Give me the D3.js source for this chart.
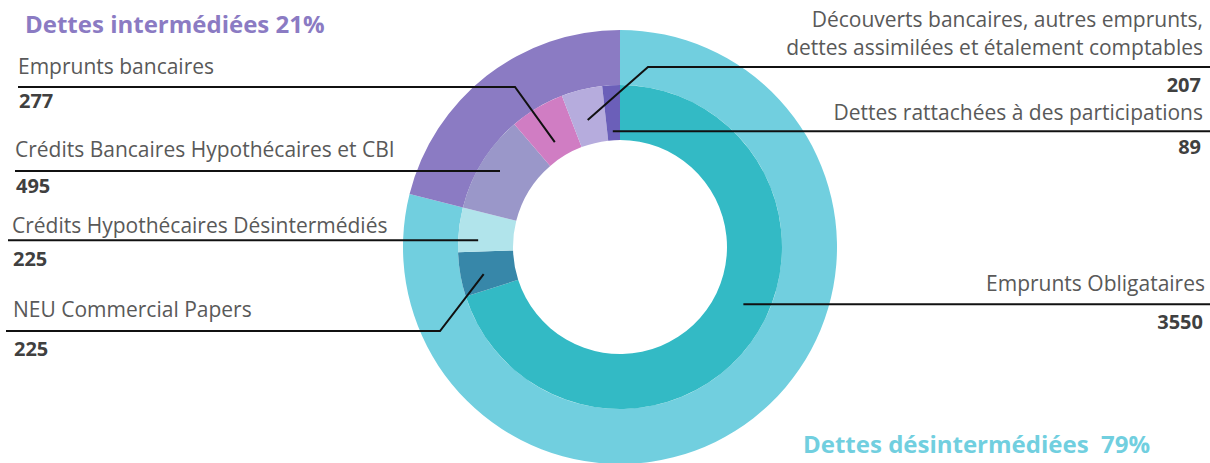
<!DOCTYPE html>
<html>
<head>
<meta charset="utf-8">
<script src="https://cdn.jsdelivr.net/npm/d3@7"></script>
<style>
  body { margin: 0; background: #fff; }
  svg { display: block; font-family: "Open Sans", Lato, sans-serif; }
</style>
</head>
<body>
<div id="chart"></div>
<script>
// Slices of the inner ring, clockwise from 12 o'clock.
const categories = [
  "Emprunts Obligataires",
  "NEU Commercial Papers",
  "Crédits Hypothécaires Désintermédiés",
  "Crédits Bancaires Hypothécaires et CBI",
  "Emprunts bancaires",
  "Découverts bancaires, autres emprunts, dettes assimilées et étalement comptables",
  "Dettes rattachées à des participations"
];
const values = [3550, 225, 225, 495, 277, 207, 89];
const groupOf = ["des", "des", "des", "int", "int", "int", "int"];

// Outer ring groups
const groupKeys = ["des", "int"];
const groupNames = { des: "Dettes désintermédiées", int: "Dettes intermédiées" };

// Colours
const innerColors = ["#33bac5", "#3787a9", "#b1e4eb", "#9a97c9", "#d07dc3", "#b6acdd", "#6b5fb9"];
const outerColors = { des: "#71cfdf", int: "#8b7bc3" };

// Label layout (one per category)
const labelLayout = [
  { side: "right", x: 1205, lines: ["Emprunts Obligataires"], textY: [291], valueY: 329, from: 1210, r: 136, dAngle: -11.2 },
  { side: "left", x: 13, lines: ["NEU Commercial Papers"], textY: [317], valueY: 356, from: 6, lineY: 331, elbowX: 440, r: 139, dAngle: -1.4 },
  { side: "left", x: 12, lines: ["Crédits Hypothécaires Désintermédiés"], textY: [233], valueY: 266, from: 8, r: 142, dAngle: -3.4 },
  { side: "left", x: 15, lines: ["Crédits Bancaires Hypothécaires et CBI"], textY: [157], valueY: 193, from: 15, r: 142, dAngle: 0.6 },
  { side: "left", x: 18, lines: ["Emprunts bancaires"], textY: [74], valueY: 108, from: 18, lineY: 87, elbowX: 515, r: 123.5, dAngle: -1 },
  { side: "right", x: 1203, lines: ["Découverts bancaires, autres emprunts,", "dettes assimilées et étalement comptables"], textY: [27, 55], valueY: 92, from: 1210, lineY: 67, elbowX: 648, r: 131, dAngle: -0.6 },
  { side: "right", x: 1203, lines: ["Dettes rattachées à des participations"], textY: [120], valueY: 154, from: 1210, r: 116, dAngle: -0.4 }
];

const width = 1210;
const height = 463;
const cx = 620, cy = 247;
const rHole = 107, rMid = 162, rOuter = 217;

const svg = d3.select("#chart").append("svg")
  .attr("width", width)
  .attr("height", height);

const g = svg.append("g").attr("transform", `translate(${cx},${cy})`);

const total = d3.sum(values);
const rows = categories.map((c, i) => ({ name: c, value: values[i], group: groupOf[i], i }));
const groupSums = groupKeys.map(k => ({ key: k, value: d3.sum(rows.filter(r => r.group === k), r => r.value) }));

const pie = d3.pie().sort(null).value(d => d.value);

// Outer ring
const outerArc = d3.arc().innerRadius(rMid).outerRadius(rOuter);
g.selectAll("path.outer")
  .data(pie(groupSums))
  .enter()
  .append("path")
  .attr("class", "outer")
  .attr("d", outerArc)
  .attr("fill", d => outerColors[d.data.key]);

// Inner ring
const innerArcs = pie(rows);
const innerArc = d3.arc().innerRadius(rHole).outerRadius(rMid);
g.selectAll("path.inner")
  .data(innerArcs)
  .enter()
  .append("path")
  .attr("class", "inner")
  .attr("d", innerArc)
  .attr("fill", d => innerColors[d.data.i]);

// Leader lines and labels
innerArcs.forEach(a => {
  const L = labelLayout[a.data.i];
  const ang = (a.startAngle + a.endAngle) / 2 + L.dAngle * Math.PI / 180;
  const ax = cx + L.r * Math.sin(ang);
  const ay = cy - L.r * Math.cos(ang);
  const pts = [];
  if (L.elbowX !== undefined) {
    pts.push([L.from, L.lineY], [L.elbowX, L.lineY], [ax, ay]);
  } else {
    pts.push([L.from, ay], [ax, ay]);
  }
  svg.append("path")
    .attr("d", d3.line()(pts))
    .attr("fill", "none")
    .attr("stroke", "#111")
    .attr("stroke-width", 2);

  const anchor = L.side === "right" ? "end" : "start";
  L.lines.forEach((t, k) => {
    svg.append("text")
      .attr("x", L.x)
      .attr("y", L.textY[k])
      .attr("text-anchor", anchor)
      .attr("font-size", 21)
      .attr("fill", "#595959")
      .text(t);
  });
  svg.append("text")
    .attr("x", L.side === "right" ? L.x - 2 : L.x + 1)
    .attr("y", L.valueY)
    .attr("text-anchor", anchor)
    .attr("font-size", 20)
    .attr("font-weight", "bold")
    .attr("fill", "#404040")
    .text(a.data.value);
});

// Group titles
const pct = k => Math.round(100 * groupSums.find(s => s.key === k).value / total) + "%";
svg.append("text")
  .attr("x", 25).attr("y", 33)
  .attr("font-size", 24).attr("font-weight", "bold")
  .attr("fill", outerColors.int)
  .text(`${groupNames.int} ${pct("int")}`);
svg.append("text")
  .attr("x", 803).attr("y", 453)
  .attr("font-size", 24).attr("font-weight", "bold")
  .attr("fill", outerColors.des)
  .style("white-space", "pre")
  .text(`${groupNames.des}  ${pct("des")}`);
</script>
</body>
</html>
